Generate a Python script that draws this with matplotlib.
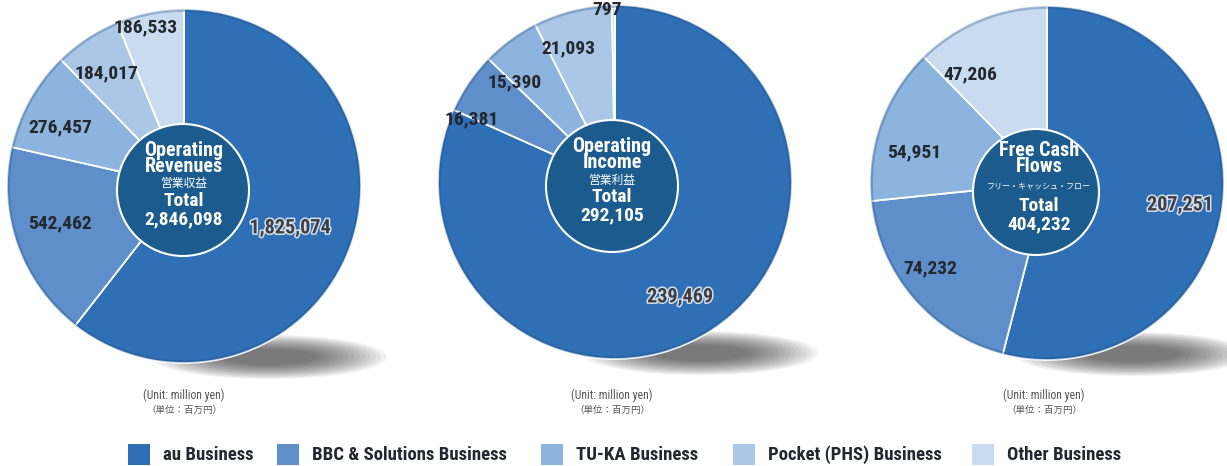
import matplotlib
matplotlib.use("Agg")
import matplotlib.pyplot as plt
from matplotlib.patches import Circle, Ellipse, Rectangle
import matplotlib.patheffects as pe

plt.rcParams['font.family'] = ['Roboto Condensed', 'DejaVu Sans', 'Noto Sans CJK JP']
JP = ['Noto Sans CJK JP', 'DejaVu Sans']

# ---- data ----
segments = ["au Business", "BBC & Solutions Business", "TU-KA Business",
            "Pocket (PHS) Business", "Other Business"]
seg_colors = ["#2f6fb5", "#5e8fca", "#8db4de", "#aac7e6", "#c9dbef"]

rev_values = [1825074, 542462, 276457, 184017, 186533]
rev_labels = ["1,825,074", "542,462", "276,457", "184,017", "186,533"]
inc_values = [239469, 16381, 15390, 21093, 797]
inc_labels = ["239,469", "16,381", "15,390", "21,093", "797"]
fcf_values = [207251, 74232, 54951, 47206]
fcf_labels = ["207,251", "74,232", "54,951", "47,206"]
fcf_color_idx = [0, 1, 2, 4]

titles_en = [["Operating", "Revenues"], ["Operating", "Income"], ["Free Cash", "Flows"]]
titles_jp = ["営業収益", "営業利益", "フリー・キャッシュ・フロー"]
totals = ["2,846,098", "292,105", "404,232"]

# ---- layout (pixel coordinates) ----
W, H = 1227, 466
fig = plt.figure(figsize=(W / 100, H / 100), dpi=100)
ax = fig.add_axes([0, 0, 1, 1])

pies = [
    dict(values=rev_values, labels=rev_labels, colors=seg_colors,
         c=(184, 186), r=177, ic=(183, 190), ir=66,
         lpos=[(290, 228), (60, 223), (60, 127), (106, 73), (146, 27)],
         ty=[150, 167, 184, 201, 219], tx=184, jpsize=8.5, ux=184),
    dict(values=inc_values, labels=inc_labels, colors=seg_colors,
         c=(615, 182), r=177, ic=(612, 186), ir=66,
         lpos=[(680, 297), (472, 119), (515, 82), (568, 48), (607, 10)],
         ty=[146, 163, 180, 197, 215], tx=612, jpsize=8.5, ux=612),
    dict(values=fcf_values, labels=fcf_labels,
         colors=[seg_colors[i] for i in fcf_color_idx],
         c=(1047, 183), r=177, ic=(1036, 192), ir=63,
         lpos=[(1180, 205), (930, 268), (914, 152), (970, 74)],
         ty=[150, 167, 187, 206, 224], tx=1039, jpsize=5.8, ux=1044),
]

for i, p in enumerate(pies):
    cx, cy = p['c']
    r = p['r']
    # soft shadow below-right of the pie
    n = 14
    for k in range(n):
        f = k / (n - 1)
        ax.add_patch(Ellipse((cx + 85, cy + r - 6), 235 - 140 * f, 44 - 28 * f,
                             color='#1e1e1e', alpha=0.06, lw=0, zorder=1))
    # pie (y axis inverted -> counterclock=True draws clockwise on screen)
    ax.pie(p['values'], colors=p['colors'], startangle=-90, counterclock=True,
           center=(cx, cy), radius=r,
           wedgeprops=dict(edgecolor='white', linewidth=1.3, zorder=2),
           frame=True)
    # subtle darker rim
    ax.add_patch(Circle((cx, cy), r - 1.5, facecolor='none', edgecolor='#1d4f86',
                        linewidth=2, alpha=0.3, zorder=3))
    # labels
    for j, (lab, (lx, ly)) in enumerate(zip(p['labels'], p['lpos'])):
        if j == 0:
            ax.text(lx, ly, lab, ha='center', va='center', fontsize=14.5, fontweight='bold',
                    color='#3a3f48', zorder=5,
                    path_effects=[pe.withStroke(linewidth=2.2, foreground='#d6dde6')])
        else:
            ax.text(lx, ly, lab, ha='center', va='center', fontsize=14, fontweight='bold',
                    color='#23272e', zorder=5)
    # centre circle
    icx, icy = p['ic']
    ax.add_patch(Circle((icx, icy), p['ir'], facecolor='#1b5b8e', edgecolor='white',
                        linewidth=1.5, zorder=4))
    tx = p['tx']
    ty = p['ty']
    ax.text(tx, ty[0], titles_en[i][0], ha='center', va='center', fontsize=14.5,
            fontweight='bold', color='white', zorder=5)
    ax.text(tx, ty[1], titles_en[i][1], ha='center', va='center', fontsize=14.5,
            fontweight='bold', color='white', zorder=5)
    ax.text(tx, ty[2], titles_jp[i], ha='center', va='center', fontsize=p['jpsize'],
            color='white', family=JP, zorder=5)
    ax.text(tx, ty[3], "Total", ha='center', va='center', fontsize=14,
            fontweight='bold', color='white', zorder=5)
    ax.text(tx, ty[4], totals[i], ha='center', va='center', fontsize=14,
            fontweight='bold', color='white', zorder=5)
    # unit
    ux = p['ux']
    ax.text(ux, 395, "(Unit: million yen)", ha='center', va='center', fontsize=8.5,
            color='#555555', zorder=5)
    ax.text(ux, 410, "（単位：百万円）", ha='center', va='center', fontsize=6.8,
            color='#555555', family=JP, zorder=5)

ax.set_xlim(0, W)
ax.set_ylim(H, 0)
ax.set_aspect('auto')
ax.axis('off')

# legend
leg_x = [128, 277, 541, 733, 972]
for x, name, col in zip(leg_x, segments, seg_colors):
    ax.add_patch(Rectangle((x, 444), 22, 21, facecolor=col, edgecolor='none', zorder=5))
    ax.text(x + 35, 455, name, ha='left', va='center', fontsize=13.5, fontweight='bold',
            color='#23272e', zorder=5)

fig.savefig("out.png", dpi=100)
